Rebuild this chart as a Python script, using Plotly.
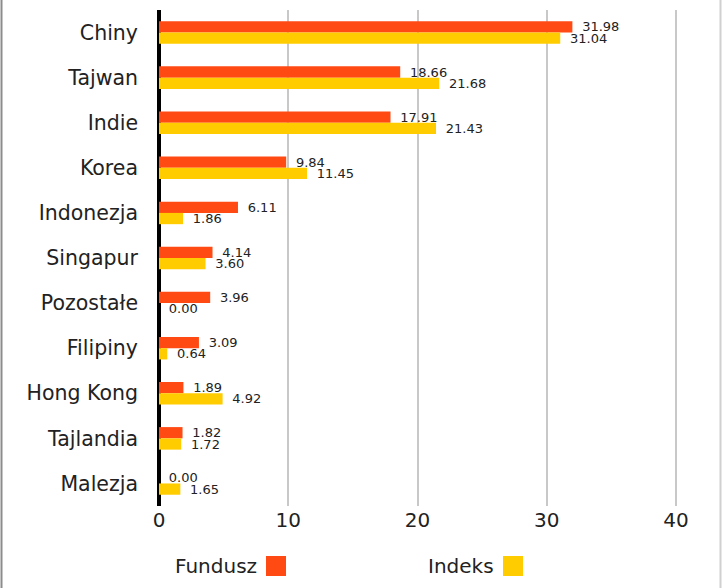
import plotly.graph_objects as go

categories = ["Chiny", "Tajwan", "Indie", "Korea", "Indonezja", "Singapur",
              "Pozostałe", "Filipiny", "Hong Kong", "Tajlandia", "Malezja"]
fundusz = [31.98, 18.66, 17.91, 9.84, 6.11, 4.14, 3.96, 3.09, 1.89, 1.82, 0.00]
indeks = [31.04, 21.68, 21.43, 11.45, 1.86, 3.60, 0.00, 0.64, 4.92, 1.72, 1.65]
series_names = ["Fundusz", "Indeks"]
x_ticks = [0, 10, 20, 30, 40]

C_F = "#FF4A14"
C_I = "#FFCC00"
FONT = "DejaVu Sans"

L, R, T, B = 159, 44, 10, 82
W, H = 722, 588
pw, ph = W - L - R, H - T - B

def px(x):
    return (x - L) / pw

def py(y):
    return (H - B - y) / ph

fig = go.Figure()
for name, vals, col in [(series_names[0], fundusz, C_F), (series_names[1], indeks, C_I)]:
    fig.add_trace(go.Bar(
        y=categories, x=vals, name=name, orientation="h",
        marker=dict(color=col, line=dict(width=0)),
        text=[f"\u2009 {v:.2f}" for v in vals], textposition="outside",
        constraintext="none", cliponaxis=False,
        textfont=dict(family=FONT, size=13, color="#222"),
        showlegend=False,
    ))

fig.update_layout(
    width=W, height=H, margin=dict(l=L, r=R, t=T, b=B),
    paper_bgcolor="white", plot_bgcolor="white",
    barmode="group", bargap=0.5, bargroupgap=0,
    font=dict(family=FONT, color="#222"),
    xaxis=dict(range=[0, 40.15], tickvals=x_ticks, showgrid=True, gridcolor="#c8c8c8",
               gridwidth=2, zeroline=True, zerolinecolor="black", zerolinewidth=4,
               showline=False, ticks="", tickfont=dict(size=20, family=FONT, color="#222")),
    yaxis=dict(autorange="reversed", showgrid=False, zeroline=False, showline=False,
               ticks="", ticklabelstandoff=20,
               tickfont=dict(size=20.5, family=FONT, color="#222")),
)

# legend (label text followed by colour square)
leg = [(series_names[0], C_F, 259, 266), (series_names[1], C_I, 496, 503)]
for name, col, tx, sx in leg:
    fig.add_annotation(text=name, xref="paper", yref="paper", x=px(tx), y=py(566),
                       xanchor="right", yanchor="middle", showarrow=False,
                       font=dict(family=FONT, size=20, color="#222"))
    fig.add_shape(type="rect", xref="paper", yref="paper", x0=px(sx), x1=px(sx + 20),
                  y0=py(576), y1=py(556), fillcolor=col, line=dict(width=0))

# frame edges
fig.add_shape(type="line", xref="paper", yref="paper", x0=px(1.5), x1=px(1.5),
              y0=py(0), y1=py(588), line=dict(color="#8c8c8c", width=2))
fig.add_shape(type="line", xref="paper", yref="paper", x0=px(720.5), x1=px(720.5),
              y0=py(0), y1=py(588), line=dict(color="#d0d0d0", width=2))

fig.write_html("out.html", config={"displayModeBar": False},
               post_script="document.body.style.margin='0';")
